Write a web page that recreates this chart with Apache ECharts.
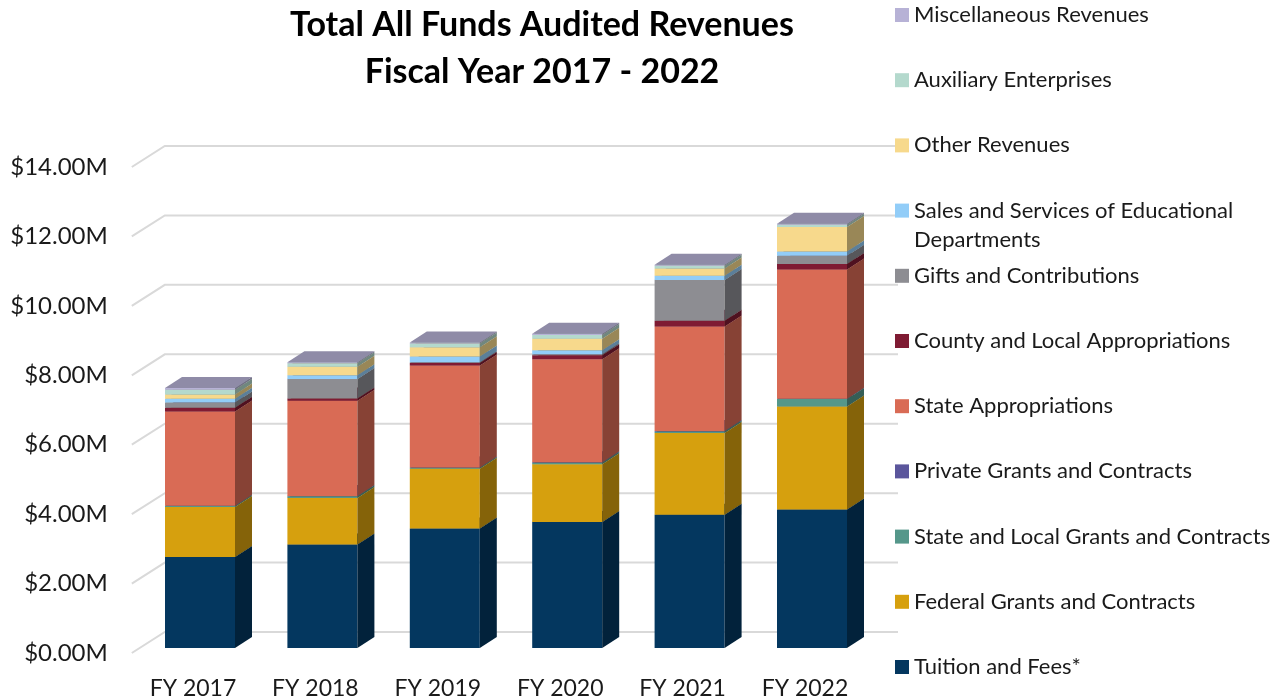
<!DOCTYPE html>
<html>
<head>
<meta charset="utf-8">
<script src="https://cdn.jsdelivr.net/npm/echarts@6/dist/echarts.min.js"></script>
<style>
html, body { margin: 0; padding: 0; background: #fff; }
#chart { width: 1283px; height: 700px; }
</style>
</head>
<body>
<div id="chart"></div>
<script>
// fiscal years on the x axis
const years = ['FY 2017', 'FY 2018', 'FY 2019', 'FY 2020', 'FY 2021', 'FY 2022'];
const yTicks = [0, 2, 4, 6, 8, 10, 12, 14];

// revenue sources, in $M, stacked bottom to top
const tuitionFees = [2.62, 2.98, 3.44, 3.63, 3.84, 3.99];
const federalGrants = [1.44, 1.34, 1.72, 1.66, 2.35, 2.97];
const stateLocalGrants = [0.03, 0.05, 0.03, 0.05, 0.05, 0.21];
const privateGrants = [0.01, 0.01, 0.01, 0.01, 0.01, 0.01];
const stateApprop = [2.71, 2.74, 2.94, 2.97, 3.01, 3.72];
const countyApprop = [0.11, 0.07, 0.07, 0.11, 0.17, 0.16];
const gifts = [0.15, 0.56, 0.02, 0.03, 1.17, 0.24];
const salesServices = [0.11, 0.11, 0.17, 0.12, 0.12, 0.12];
const otherRevenues = [0.12, 0.24, 0.26, 0.33, 0.21, 0.71];
const auxiliary = [0.14, 0.10, 0.11, 0.11, 0.08, 0.06];
const miscRevenues = [0.05, 0.03, 0.03, 0.03, 0.03, 0.03];

const layers = [
    { name: 'Tuition and Fees*', data: tuitionFees, color: '#04375f' },
    { name: 'Federal Grants and Contracts', data: federalGrants, color: '#d6a00e' },
    { name: 'State and Local Grants and Contracts', data: stateLocalGrants, color: '#55978a' },
    { name: 'Private Grants and Contracts', data: privateGrants, color: '#5b569c' },
    { name: 'State Appropriations', data: stateApprop, color: '#d96b55' },
    { name: 'County and Local Appropriations', data: countyApprop, color: '#7f1b33' },
    { name: 'Gifts and Contributions', data: gifts, color: '#8d8d92' },
    { name: 'Sales and Services of Educational Departments', data: salesServices, color: '#92cdf8' },
    { name: 'Other Revenues', data: otherRevenues, color: '#f7d98c' },
    { name: 'Auxiliary Enterprises', data: auxiliary, color: '#b4d9cd' },
    { name: 'Miscellaneous Revenues', data: miscRevenues, color: '#b7b2d6' }
];

function shade(hex, f) {
    let n = parseInt(hex.slice(1), 16);
    let r = Math.round(((n >> 16) & 255) * f);
    let g = Math.round(((n >> 8) & 255) * f);
    let b = Math.round((n & 255) * f);
    return 'rgb(' + r + ',' + g + ',' + b + ')';
}

const font = 'Lato, "Open Sans", sans-serif';
const barW = 70, depthX = 17, depthY = -11;

let containerDom = document.getElementById('chart');
let myChart = echarts.init(containerDom);

// running base for the stack
let base = years.map(() => 0);
let series = [];

// back wall + left wall grid lines
series.push({
    type: 'custom',
    name: 'grid',
    silent: true,
    z: 1,
    data: yTicks.map(v => [0, v]),
    renderItem: function (params, api) {
        let p = api.coord([0, api.value(1)]);
        let left = params.coordSys.x;
        return {
            type: 'polyline',
            shape: { points: [[left, p[1]], [left + 33, p[1] - 21], [898, p[1] - 21]] },
            style: { stroke: '#d9d9d9', lineWidth: 2, fill: null }
        };
    }
});

layers.forEach((layer, li) => {
    let rows = layer.data.map((v, i) => {
        let row = [i, base[i], base[i] + v];
        base[i] += v;
        return row;
    });
    let c = layer.color;
    series.push({
        type: 'custom',
        name: layer.name,
        z: 2 + li,
        itemStyle: { color: c },
        data: rows,
        renderItem: function (params, api) {
            let p0 = api.coord([api.value(0), api.value(1)]);
            let p1 = api.coord([api.value(0), api.value(2)]);
            let x0 = p0[0] + 7 - barW / 2, x1 = x0 + barW;
            let yb = p0[1] - 5, yt = p1[1] - 5;
            return {
                type: 'group',
                children: [
                    {
                        type: 'rect',
                        shape: { x: x0, y: yt, width: barW, height: yb - yt },
                        style: { fill: c }
                    },
                    {
                        type: 'polygon',
                        shape: { points: [[x1, yb], [x1 + depthX, yb + depthY], [x1 + depthX, yt + depthY], [x1, yt]] },
                        style: { fill: shade(c, 0.62) }
                    },
                    {
                        type: 'polygon',
                        shape: { points: [[x0, yt], [x1, yt], [x1 + depthX, yt + depthY], [x0 + depthX, yt + depthY]] },
                        style: { fill: shade(c, 0.78) }
                    }
                ]
            };
        }
    });
});

// one legend per row so the rows keep Excel's spacing
let legendRows = layers.slice().reverse();
let legends = legendRows.map((layer, k) => {
    let yc = 15 + k * 65.2;
    let twoLine = layer.name.indexOf('Sales') === 0;
    return {
        data: [layer.name],
        left: 895,
        top: twoLine ? yc - 43.5 : yc - 11,
        padding: 0,
        itemWidth: 14,
        itemHeight: 14,
        icon: 'rect',
        selectedMode: false,
        // blank first line keeps the marker level with the first text line
        formatter: twoLine ? '\nSales and Services of Educational\nDepartments' : '{name}',
        textStyle: {
            fontFamily: font,
            fontSize: 22,
            color: '#1a1a1a',
            lineHeight: twoLine ? 29 : 22
        }
    };
});

let option = {
    animation: false,
    title: {
        text: 'Total All Funds Audited Revenues\nFiscal Year 2017 - 2022',
        left: 537,
        textAlign: 'center',
        top: -3,
        textStyle: {
            fontFamily: font,
            fontSize: 34,
            fontWeight: 'bold',
            color: '#000',
            lineHeight: 47
        }
    },
    legend: legends,
    grid: {
        left: 131.8,
        width: 734.4,
        top: 167,
        bottom: 47
    },
    xAxis: {
        type: 'category',
        data: years,
        axisLine: { show: false },
        axisTick: { show: false },
        axisLabel: {
            fontFamily: font,
            fontSize: 23,
            color: '#1a1a1a',
            margin: 24
        }
    },
    yAxis: {
        type: 'value',
        min: 0,
        max: 14,
        interval: 2,
        splitLine: { show: false },
        axisLine: { show: false },
        axisTick: { show: false },
        axisLabel: {
            fontFamily: font,
            fontSize: 24,
            color: '#1a1a1a',
            margin: 24,
            formatter: function (v) { return '$' + v.toFixed(2) + 'M'; }
        }
    },
    series: series
};
myChart.setOption(option);

window.addEventListener('resize', () => {
    myChart.resize()
})
</script>
</body>
</html>
